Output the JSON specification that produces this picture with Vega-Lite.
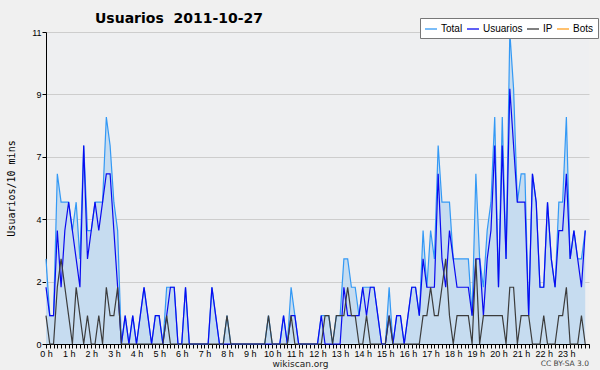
{
  "$schema": "https://vega.github.io/schema/vega-lite/v6.json",
  "autosize": {"type": "none"},
  "width": 543,
  "height": 312,
  "padding": {"left": 46, "top": 32, "right": 11, "bottom": 26},
  "background": "#F0F0F0",
  "config": {
    "view": {"fill": "#EEEFF1", "stroke": null},
    "font": "DejaVu Sans"
  },
  "title": {
    "text": "Usuarios\u00a0\u00a02011-10-27",
    "anchor": "start",
    "frame": "group",
    "dx": 49,
    "offset": -19,
    "baseline": "alphabetic",
    "font": "DejaVu Sans",
    "fontSize": 14,
    "fontWeight": "bold",
    "color": "#000000"
  },
  "data": {
    "values": [
      {"m":0,"Total":3,"Usuarios":2,"IP":1},{"m":10,"Total":1,"Usuarios":1,"IP":0},{"m":20,"Total":1,"Usuarios":1,"IP":0},{"m":30,"Total":6,"Usuarios":4,"IP":2},{"m":40,"Total":5,"Usuarios":2,"IP":3},{"m":50,"Total":5,"Usuarios":4,"IP":2},
      {"m":60,"Total":5,"Usuarios":5,"IP":1},{"m":70,"Total":4,"Usuarios":4,"IP":0},{"m":80,"Total":5,"Usuarios":3,"IP":2},{"m":90,"Total":3,"Usuarios":2,"IP":1},{"m":100,"Total":7,"Usuarios":7,"IP":0},{"m":110,"Total":4,"Usuarios":3,"IP":1},
      {"m":120,"Total":4,"Usuarios":4,"IP":0},{"m":130,"Total":5,"Usuarios":5,"IP":0},{"m":140,"Total":5,"Usuarios":4,"IP":1},{"m":150,"Total":5,"Usuarios":5,"IP":0},{"m":160,"Total":8,"Usuarios":6,"IP":2},{"m":170,"Total":7,"Usuarios":6,"IP":1},
      {"m":180,"Total":5,"Usuarios":4,"IP":1},{"m":190,"Total":4,"Usuarios":2,"IP":2},{"m":200,"Total":0,"Usuarios":0,"IP":0},{"m":210,"Total":1,"Usuarios":1,"IP":0},{"m":220,"Total":0,"Usuarios":0,"IP":0},{"m":230,"Total":1,"Usuarios":1,"IP":0},
      {"m":240,"Total":0,"Usuarios":0,"IP":0},{"m":250,"Total":1,"Usuarios":1,"IP":0},{"m":260,"Total":2,"Usuarios":2,"IP":0},{"m":270,"Total":1,"Usuarios":1,"IP":0},{"m":280,"Total":0,"Usuarios":0,"IP":0},{"m":290,"Total":1,"Usuarios":1,"IP":0},
      {"m":300,"Total":1,"Usuarios":1,"IP":0},{"m":310,"Total":0,"Usuarios":0,"IP":0},{"m":320,"Total":2,"Usuarios":1,"IP":1},{"m":330,"Total":2,"Usuarios":2,"IP":0},{"m":340,"Total":2,"Usuarios":2,"IP":0},{"m":350,"Total":0,"Usuarios":0,"IP":0},
      {"m":360,"Total":0,"Usuarios":0,"IP":0},{"m":370,"Total":2,"Usuarios":2,"IP":0},{"m":380,"Total":0,"Usuarios":0,"IP":0},{"m":390,"Total":0,"Usuarios":0,"IP":0},{"m":400,"Total":0,"Usuarios":0,"IP":0},{"m":410,"Total":0,"Usuarios":0,"IP":0},
      {"m":420,"Total":0,"Usuarios":0,"IP":0},{"m":430,"Total":0,"Usuarios":0,"IP":0},{"m":440,"Total":2,"Usuarios":2,"IP":0},{"m":450,"Total":1,"Usuarios":1,"IP":0},{"m":460,"Total":0,"Usuarios":0,"IP":0},{"m":470,"Total":0,"Usuarios":0,"IP":0},
      {"m":480,"Total":1,"Usuarios":0,"IP":1},{"m":490,"Total":0,"Usuarios":0,"IP":0},{"m":500,"Total":0,"Usuarios":0,"IP":0},{"m":510,"Total":0,"Usuarios":0,"IP":0},{"m":520,"Total":0,"Usuarios":0,"IP":0},{"m":530,"Total":0,"Usuarios":0,"IP":0},
      {"m":540,"Total":0,"Usuarios":0,"IP":0},{"m":550,"Total":0,"Usuarios":0,"IP":0},{"m":560,"Total":0,"Usuarios":0,"IP":0},{"m":570,"Total":0,"Usuarios":0,"IP":0},{"m":580,"Total":0,"Usuarios":0,"IP":0},{"m":590,"Total":1,"Usuarios":0,"IP":1},
      {"m":600,"Total":0,"Usuarios":0,"IP":0},{"m":610,"Total":0,"Usuarios":0,"IP":0},{"m":620,"Total":0,"Usuarios":0,"IP":0},{"m":630,"Total":1,"Usuarios":1,"IP":0},{"m":640,"Total":0,"Usuarios":0,"IP":0},{"m":650,"Total":2,"Usuarios":1,"IP":1},
      {"m":660,"Total":1,"Usuarios":1,"IP":0},{"m":670,"Total":0,"Usuarios":0,"IP":0},{"m":680,"Total":0,"Usuarios":0,"IP":0},{"m":690,"Total":0,"Usuarios":0,"IP":0},{"m":700,"Total":0,"Usuarios":0,"IP":0},{"m":710,"Total":0,"Usuarios":0,"IP":0},
      {"m":720,"Total":0,"Usuarios":0,"IP":0},{"m":730,"Total":1,"Usuarios":1,"IP":0},{"m":740,"Total":1,"Usuarios":0,"IP":1},{"m":750,"Total":1,"Usuarios":0,"IP":1},{"m":760,"Total":0,"Usuarios":0,"IP":0},{"m":770,"Total":1,"Usuarios":0,"IP":1},
      {"m":780,"Total":1,"Usuarios":0,"IP":1},{"m":790,"Total":3,"Usuarios":2,"IP":1},{"m":800,"Total":3,"Usuarios":1,"IP":2},{"m":810,"Total":2,"Usuarios":1,"IP":1},{"m":820,"Total":2,"Usuarios":1,"IP":1},{"m":830,"Total":1,"Usuarios":1,"IP":0},
      {"m":840,"Total":2,"Usuarios":2,"IP":0},{"m":850,"Total":2,"Usuarios":1,"IP":1},{"m":860,"Total":2,"Usuarios":2,"IP":0},{"m":870,"Total":2,"Usuarios":2,"IP":0},{"m":880,"Total":1,"Usuarios":1,"IP":0},{"m":890,"Total":0,"Usuarios":0,"IP":0},
      {"m":900,"Total":0,"Usuarios":0,"IP":0},{"m":910,"Total":2,"Usuarios":1,"IP":1},{"m":920,"Total":0,"Usuarios":0,"IP":0},{"m":930,"Total":1,"Usuarios":1,"IP":0},{"m":940,"Total":1,"Usuarios":1,"IP":0},{"m":950,"Total":0,"Usuarios":0,"IP":0},
      {"m":960,"Total":1,"Usuarios":1,"IP":0},{"m":970,"Total":2,"Usuarios":2,"IP":0},{"m":980,"Total":2,"Usuarios":2,"IP":0},{"m":990,"Total":1,"Usuarios":1,"IP":0},{"m":1000,"Total":4,"Usuarios":3,"IP":1},{"m":1010,"Total":2,"Usuarios":2,"IP":1},
      {"m":1020,"Total":4,"Usuarios":2,"IP":2},{"m":1030,"Total":3,"Usuarios":2,"IP":1},{"m":1040,"Total":7,"Usuarios":6,"IP":1},{"m":1050,"Total":5,"Usuarios":3,"IP":2},{"m":1060,"Total":5,"Usuarios":2,"IP":3},{"m":1070,"Total":5,"Usuarios":4,"IP":1},
      {"m":1080,"Total":3,"Usuarios":3,"IP":0},{"m":1090,"Total":3,"Usuarios":2,"IP":1},{"m":1100,"Total":3,"Usuarios":2,"IP":1},{"m":1110,"Total":3,"Usuarios":2,"IP":1},{"m":1120,"Total":3,"Usuarios":2,"IP":1},{"m":1130,"Total":1,"Usuarios":1,"IP":0},
      {"m":1140,"Total":6,"Usuarios":3,"IP":3},{"m":1150,"Total":3,"Usuarios":3,"IP":0},{"m":1160,"Total":2,"Usuarios":1,"IP":1},{"m":1170,"Total":4,"Usuarios":3,"IP":1},{"m":1180,"Total":5,"Usuarios":4,"IP":1},{"m":1190,"Total":8,"Usuarios":7,"IP":1},
      {"m":1200,"Total":2,"Usuarios":2,"IP":1},{"m":1210,"Total":8,"Usuarios":7,"IP":1},{"m":1220,"Total":3,"Usuarios":3,"IP":0},{"m":1230,"Total":11,"Usuarios":9,"IP":2},{"m":1240,"Total":9,"Usuarios":7,"IP":2},{"m":1250,"Total":5,"Usuarios":5,"IP":0},
      {"m":1260,"Total":6,"Usuarios":5,"IP":1},{"m":1270,"Total":6,"Usuarios":5,"IP":1},{"m":1280,"Total":1,"Usuarios":1,"IP":1},{"m":1290,"Total":6,"Usuarios":6,"IP":0},{"m":1300,"Total":5,"Usuarios":5,"IP":0},{"m":1310,"Total":2,"Usuarios":2,"IP":0},
      {"m":1320,"Total":2,"Usuarios":2,"IP":1},{"m":1330,"Total":5,"Usuarios":5,"IP":0},{"m":1340,"Total":3,"Usuarios":3,"IP":0},{"m":1350,"Total":2,"Usuarios":2,"IP":0},{"m":1360,"Total":5,"Usuarios":4,"IP":1},{"m":1370,"Total":5,"Usuarios":4,"IP":1},
      {"m":1380,"Total":8,"Usuarios":6,"IP":2},{"m":1390,"Total":3,"Usuarios":3,"IP":0},{"m":1400,"Total":4,"Usuarios":4,"IP":0},{"m":1410,"Total":3,"Usuarios":3,"IP":0},{"m":1420,"Total":3,"Usuarios":2,"IP":1},{"m":1430,"Total":4,"Usuarios":4,"IP":0}
    ]
  },
  "encoding": {
    "x": {
      "field": "m",
      "type": "quantitative",
      "scale": {"domain": [0, 1440], "nice": false, "zero": false},
      "axis": {
        "values": [0,10,20,30,40,50,60,70,80,90,100,110,120,130,140,150,160,170,180,190,200,210,220,230,240,250,260,270,280,290,300,310,320,330,340,350,360,370,380,390,400,410,420,430,440,450,460,470,480,490,500,510,520,530,540,550,560,570,580,590,600,610,620,630,640,650,660,670,680,690,700,710,720,730,740,750,760,770,780,790,800,810,820,830,840,850,860,870,880,890,900,910,920,930,940,950,960,970,980,990,1000,1010,1020,1030,1040,1050,1060,1070,1080,1090,1100,1110,1120,1130,1140,1150,1160,1170,1180,1190,1200,1210,1220,1230,1240,1250,1260,1270,1280,1290,1300,1310,1320,1330,1340,1350,1360,1370,1380,1390,1400,1410,1420,1430,1440],
        "labelExpr": "(datum.value % 60 == 0 && datum.value < 1440) ? (datum.value / 60) + ' h' : ''",
        "labelOverlap": false,
        "labelFlush": false,
        "labelBound": false,
        "labelFont": "Liberation Sans",
        "labelFontSize": 9,
        "labelColor": "#000000",
        "labelPadding": 1,
        "tickSize": 4,
        "tickColor": "#000000",
        "domainColor": "#000000",
        "grid": false,
        "title": "wikiscan.org",
        "titleFont": "DejaVu Sans",
        "titleFontSize": 9,
        "titleFontWeight": "normal",
        "titleColor": "#222222",
        "titleX": 254,
        "titleY": 22,
        "titleBaseline": "alphabetic"
      }
    }
  },
  "layer": [
    {
      "mark": {"type": "area", "color": "#C6DCF0", "opacity": 1},
      "encoding": {
        "y": {
          "field": "Total",
          "type": "quantitative",
          "scale": {"domain": [0, 11], "nice": false},
          "axis": {
            "values": [0,0.55,1.1,1.65,2.2,2.75,3.3,3.85,4.4,4.95,5.5,6.05,6.6,7.15,7.7,8.25,8.8,9.35,9.9,10.45,11],
            "labelExpr": "abs(datum.value*10/22 - round(datum.value*10/22)) < 1/100 ? '' + round(datum.value) : ''",
            "labelOverlap": false,
            "labelFont": "Liberation Sans",
            "labelFontSize": 9,
            "labelColor": "#000000",
            "labelPadding": 1,
            "tickColor": "#000000",
            "tickSize": 4,
            "domainColor": "#000000",
            "grid": true,
            "gridColor": {"condition": {"test": "abs(datum.value*10/22 - round(datum.value*10/22)) < 1/100", "value": "#CDCDCD"}, "value": "transparent"},
            "gridWidth": 1.2,
            "title": "Usuarios/10 mins",
            "titleFont": "DejaVu Sans Mono",
            "titleFontSize": 10,
            "titleFontWeight": "normal",
            "titleColor": "#000000",
            "titlePadding": 15
          }
        }
      }
    },
    {
      "transform": [{"fold": ["Total", "Usuarios", "IP"], "as": ["serie", "v"]}],
      "mark": {"type": "line", "strokeWidth": 1.2},
      "encoding": {
        "y": {"field": "v", "type": "quantitative"},
        "color": {
          "field": "serie",
          "type": "nominal",
          "scale": {"domain": ["Total", "Usuarios", "IP", "Bots"], "range": ["#3399F5", "#0A0AF0", "#3C3C3C", "#FFA020"]},
          "legend": {
            "title": null,
            "orient": "none",
            "legendX": 374,
            "legendY": -14,
            "direction": "horizontal",
            "symbolType": "stroke",
            "symbolStrokeWidth": 1.3,
            "symbolSize": 144,
            "labelFont": "Liberation Sans",
            "labelFontSize": 10,
            "labelColor": "#000000",
            "labelOffset": 3,
            "columnPadding": 1,
            "padding": 4,
            "fillColor": "#FFFFFF",
            "strokeColor": "#777777",
            "labelLimit": 80
          }
        }
      }
    },
    {
      "data": {"values": [{"m": 1440, "t": "CC BY-SA 3.0"}]},
      "mark": {"type": "text", "align": "right", "baseline": "alphabetic", "dy": 22, "fontSize": 7.5, "font": "DejaVu Sans", "color": "#444444"},
      "encoding": {
        "y": {"datum": 0},
        "text": {"field": "t"}
      }
    }
  ]
}
